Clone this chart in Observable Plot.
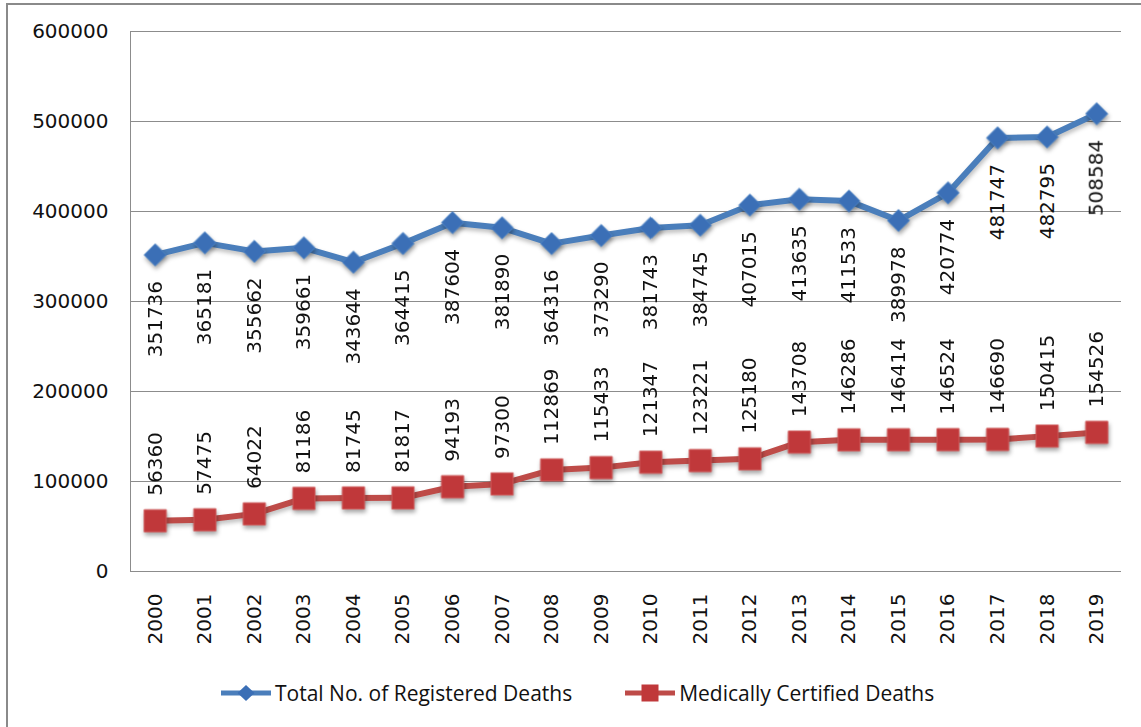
<!DOCTYPE html>
<html>
<head>
<meta charset="utf-8">
<script src="https://cdn.jsdelivr.net/npm/d3@7"></script>
<script src="https://cdn.jsdelivr.net/npm/@observablehq/plot@0.6"></script>
<style>
  html, body { margin: 0; padding: 0; background: #fff; }
  #wrap { position: relative; width: 1141px; height: 727px; overflow: hidden; background: #fff; }
  #frame { position: absolute; left: 6px; top: 3px; right: -10px; bottom: -10px;
           border-top: 2px solid #8a8a8a; border-left: 2px solid #8a8a8a; }
  #chart { position: absolute; left: 0; top: 0; }
  #chart svg g[aria-label="dot"] { filter: drop-shadow(1px 3px 2px rgba(0,0,0,0.35)); }
  #chart svg g[aria-label="line"] { filter: drop-shadow(1px 3px 2px rgba(0,0,0,0.25)); }
  #legend { position: absolute; top: 680px; left: 220px; height: 26px;
            font-family: "Open Sans", sans-serif; font-size: 21px; color: #111;
            display: flex; align-items: center; white-space: nowrap; }
  .item { display: flex; align-items: center; }
  .item svg { display: block; margin-right: 3px; }
</style>
</head>
<body>
<div id="wrap">
  <div id="frame"></div>
  <div id="chart"></div>
  <div id="legend"></div>
</div>
<script>
const years = ["2000","2001","2002","2003","2004","2005","2006","2007","2008","2009",
               "2010","2011","2012","2013","2014","2015","2016","2017","2018","2019"];
const registeredDeaths = [351736,365181,355662,359661,343644,364415,387604,381890,364316,373290,
                          381743,384745,407015,413635,411533,389978,420774,481747,482795,508584];
const certifiedDeaths = [56360,57475,64022,81186,81745,81817,94193,97300,112869,115433,
                         121347,123221,125180,143708,146286,146414,146524,146690,150415,154526];
const yTicks = [0,100000,200000,300000,400000,500000,600000];
const seriesNames = ["Total No. of Registered Deaths", "Medically Certified Deaths"];

const blue = "#4A7EBB", blueMarker = "#3B6FB6";
const red = "#BE4B48", redMarker = "#C0383A";

const reg = years.map((y, i) => ({year: y, value: registeredDeaths[i]}));
const cert = years.map((y, i) => ({year: y, value: certifiedDeaths[i]}));

const font = "'DejaVu Sans', sans-serif";

const chart = Plot.plot({
  width: 1141,
  height: 727,
  marginLeft: 130,
  marginRight: 20,
  marginTop: 31,
  marginBottom: 156,
  style: {fontFamily: font, fontSize: "20px", color: "#111", background: "transparent", overflow: "visible"},
  x: {type: "point", domain: years, padding: 0.5, round: false},
  y: {domain: [0, 600000]},
  marks: [
    Plot.gridY(yTicks, {stroke: "#8c8c8c", strokeOpacity: 1, strokeWidth: 1}),
    Plot.frame({anchor: "left", stroke: "#8c8c8c"}),
    Plot.axisY(yTicks, {tickSize: 0, tickPadding: 22, tickFormat: d => String(d), fontSize: 20, label: null, fill: "#111"}),
    Plot.axisX(years, {tickSize: 0, tickPadding: 22, tickRotate: -90, fontSize: 20, label: null, fill: "#111"}),
    Plot.line(reg, {x: "year", y: "value", stroke: blue, strokeWidth: 6}),
    Plot.line(cert, {x: "year", y: "value", stroke: red, strokeWidth: 6}),
    Plot.dot(reg, {x: "year", y: "value", symbol: "diamond2", r: 10, fill: blueMarker, stroke: "#4E86C8", strokeWidth: 1}),
    Plot.dot(cert, {x: "year", y: "value", symbol: "square", r: 12.5, fill: redMarker, stroke: "#D05A5A", strokeWidth: 1}),
    Plot.text(reg, {x: "year", y: "value", text: d => String(d.value), rotate: -90, textAnchor: "end", lineAnchor: "middle", dy: 26, fontSize: 20, fill: "#111"}),
    Plot.text(cert, {x: "year", y: "value", text: d => String(d.value), rotate: -90, textAnchor: "start", lineAnchor: "middle", dy: -25, fontSize: 20, fill: "#111"})
  ]
});
document.getElementById("chart").appendChild(chart);

// Legend
const legend = d3.select("#legend");
const items = [
  {name: seriesNames[0], color: blue, marker: blueMarker, shape: "diamond", gap: 0},
  {name: seriesNames[1], color: red, marker: redMarker, shape: "square", gap: 52}
];
items.forEach(it => {
  const item = legend.append("div").attr("class", "item").style("margin-left", it.gap + "px");
  const s = item.append("svg").attr("width", 52).attr("height", 26);
  s.append("line").attr("x1", 1).attr("x2", 51).attr("y1", 13).attr("y2", 13)
    .attr("stroke", it.color).attr("stroke-width", 5);
  if (it.shape === "diamond") {
    s.append("path").attr("d", "M26,5 L34.5,13 L26,21 L17.5,13 Z").attr("fill", it.marker);
  } else {
    s.append("rect").attr("x", 17.5).attr("y", 4.5).attr("width", 17).attr("height", 17).attr("fill", it.marker);
  }
  item.append("span").text(it.name);
});
</script>
</body>
</html>
